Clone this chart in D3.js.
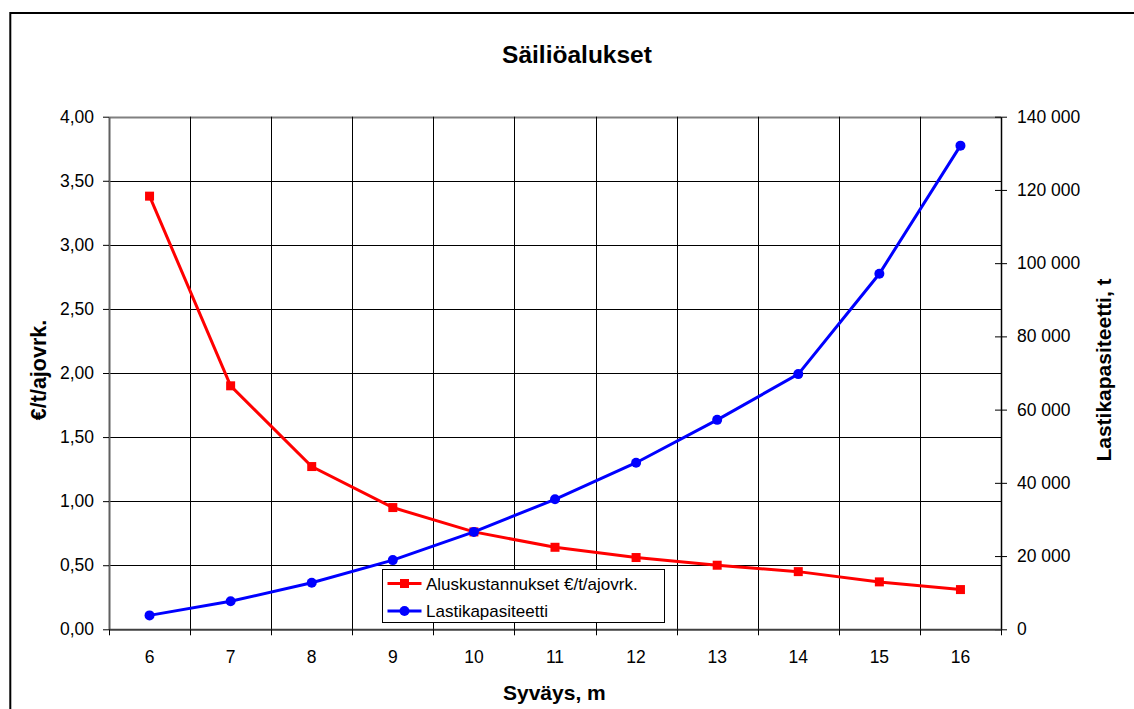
<!DOCTYPE html>
<html>
<head>
<meta charset="utf-8">
<script src="https://cdn.jsdelivr.net/npm/d3@7/dist/d3.min.js"></script>
<style>
  html, body { margin: 0; padding: 0; background: #fff; }
  svg { display: block; font-family: "Liberation Sans", Arial, sans-serif; }
</style>
</head>
<body>
<svg id="chart" width="1134" height="709"></svg>
<script>
// Draught (m) on the x axis
const categories = [6, 7, 8, 9, 10, 11, 12, 13, 14, 15, 16];
// Vessel cost, €/t per operating day (left axis)
const costValues = [3.38, 1.90, 1.27, 0.95, 0.76, 0.64, 0.56, 0.50, 0.45, 0.37, 0.31];
// Cargo capacity, tonnes (right axis)
const capacityValues = [3800, 7650, 12700, 18900, 26600, 35500, 45500, 57200, 69700, 97100, 132100];
// Axis ticks
const leftTicks = [0, 0.5, 1, 1.5, 2, 2.5, 3, 3.5, 4];
const rightTicks = [0, 20000, 40000, 60000, 80000, 100000, 120000, 140000];

const seriesNames = ["Aluskustannukset €/t/ajovrk.", "Lastikapasiteetti"];
const title = "Säiliöalukset";
const xTitle = "Syväys, m";
const yLeftTitle = "€/t/ajovrk.";
const yRightTitle = "Lastikapasiteetti, t";

const fi = d3.formatLocale({ decimal: ",", thousands: "\u00a0", grouping: [3], currency: ["", " €"] });
const fmtLeft = fi.format(".2f");
const fmtRight = fi.format(",d");

const svg = d3.select("#chart");
const plot = { left: 109, right: 1001, top: 116.7, bottom: 629.3 };

const x = d3.scaleBand().domain(categories).range([plot.left, plot.right]);
const yL = d3.scaleLinear().domain([0, 4]).range([plot.bottom, plot.top]);
const yR = d3.scaleLinear().domain([0, 140000]).range([plot.bottom, plot.top]);

// Outer chart frame (runs past the right and bottom edges)
svg.append("rect")
  .attr("x", 10.3).attr("y", 13).attr("width", 1200).attr("height", 800)
  .attr("fill", "none").attr("stroke", "#000").attr("stroke-width", 2);

// Title
svg.append("text")
  .attr("x", 577).attr("y", 63)
  .attr("text-anchor", "middle")
  .attr("font-weight", "bold").attr("font-size", 24.5)
  .text(title);

// Horizontal grid
const g = svg.append("g");
g.selectAll("line.h").data(leftTicks.slice(1)).join("line")
  .attr("x1", plot.left).attr("x2", plot.right)
  .attr("y1", d => Math.round(yL(d)) + 0.5).attr("y2", d => Math.round(yL(d)) + 0.5)
  .attr("stroke", d => d === 4 ? "#808080" : "#000").attr("stroke-width", d => d === 4 ? 2 : 1);

// Vertical grid at category boundaries
const bounds = categories.slice(1).map(c => x(c));
g.selectAll("line.v").data(bounds).join("line")
  .attr("x1", d => Math.round(d) + 0.5).attr("x2", d => Math.round(d) + 0.5)
  .attr("y1", plot.top).attr("y2", plot.bottom)
  .attr("stroke", "#000").attr("stroke-width", 1);

// Left axis
const axL = d3.axisLeft(yL).tickValues(leftTicks).tickFormat(fmtLeft).tickSizeInner(6).tickSizeOuter(0).tickPadding(9);
const gL = svg.append("g").attr("transform", `translate(${plot.left},0)`).call(axL);
gL.select(".domain").attr("stroke", "#606060").attr("stroke-width", 2);
gL.selectAll(".tick line").attr("stroke", "#000");
gL.selectAll(".tick text").attr("font-size", 17.5).attr("fill", "#000").attr("font-family", "Liberation Sans, Arial, sans-serif");

// Right axis (ticks cross the axis line)
const axR = d3.axisRight(yR).tickValues(rightTicks).tickFormat(fmtRight).tickSizeInner(6).tickSizeOuter(0).tickPadding(10);
const gR = svg.append("g").attr("transform", `translate(${plot.right},0)`).call(axR);
gR.select(".domain").attr("stroke", "#000").attr("stroke-width", 1.5);
gR.selectAll(".tick line").attr("x1", -6).attr("stroke", "#000");
gR.selectAll(".tick text").attr("font-size", 17.5).attr("fill", "#000").attr("font-family", "Liberation Sans, Arial, sans-serif");

// Bottom axis with ticks on the category boundaries
const axB = d3.axisBottom(x).tickSize(0).tickPadding(21);
const gB = svg.append("g").attr("transform", `translate(0,${plot.bottom})`).call(axB);
gB.select(".domain").attr("stroke", "#404040").attr("stroke-width", 2);
gB.selectAll(".tick text").attr("font-size", 17.5).attr("fill", "#000").attr("font-family", "Liberation Sans, Arial, sans-serif");
gB.selectAll("line.bt").data([plot.left, ...bounds, plot.right]).join("line")
  .attr("x1", d => Math.round(d) + 0.5).attr("x2", d => Math.round(d) + 0.5)
  .attr("y1", 0).attr("y2", 6).attr("stroke", "#000");

// Axis titles
svg.append("text")
  .attr("x", 503).attr("y", 700)
  .attr("font-weight", "bold").attr("font-size", 21)
  .text(xTitle);
svg.append("text")
  .attr("transform", "translate(46,370) rotate(-90)")
  .attr("text-anchor", "middle")
  .attr("font-weight", "bold").attr("font-size", 21.5)
  .text(yLeftTitle);
svg.append("text")
  .attr("transform", "translate(1111,370) rotate(-90)")
  .attr("text-anchor", "middle")
  .attr("font-weight", "bold").attr("font-size", 21)
  .text(yRightTitle);

const cx = d => x(d) + x.bandwidth() / 2;

// Cost series
const costData = categories.map((c, i) => ({ c, v: costValues[i] }));
svg.append("path").datum(costData)
  .attr("fill", "none").attr("stroke", "#ff0000").attr("stroke-width", 3)
  .attr("d", d3.line().x(d => cx(d.c)).y(d => yL(d.v)));
svg.selectAll("rect.cost").data(costData).join("rect")
  .attr("x", d => cx(d.c) - 4.5).attr("y", d => yL(d.v) - 4.5)
  .attr("width", 9).attr("height", 9).attr("fill", "#ff0000");

// Capacity series
const capData = categories.map((c, i) => ({ c, v: capacityValues[i] }));
svg.append("path").datum(capData)
  .attr("fill", "none").attr("stroke", "#0000ff").attr("stroke-width", 3)
  .attr("d", d3.line().x(d => cx(d.c)).y(d => yR(d.v)));
svg.selectAll("circle.cap").data(capData).join("circle")
  .attr("cx", d => cx(d.c)).attr("cy", d => yR(d.v))
  .attr("r", 5).attr("fill", "#0000ff");

// Legend
const lg = svg.append("g").attr("transform", "translate(382.5,569.5)");
lg.append("rect").attr("width", 282).attr("height", 53)
  .attr("fill", "#fff").attr("stroke", "#000").attr("stroke-width", 1);
const rows = [
  { name: seriesNames[0], color: "#ff0000", shape: "square", y: 14 },
  { name: seriesNames[1], color: "#0000ff", shape: "circle", y: 41.5 }
];
rows.forEach(r => {
  lg.append("line").attr("x1", 5).attr("x2", 39).attr("y1", r.y).attr("y2", r.y)
    .attr("stroke", r.color).attr("stroke-width", 3);
  if (r.shape === "square") {
    lg.append("rect").attr("x", 22 - 4.5).attr("y", r.y - 4.5).attr("width", 9).attr("height", 9).attr("fill", r.color);
  } else {
    lg.append("circle").attr("cx", 22).attr("cy", r.y).attr("r", 5).attr("fill", r.color);
  }
  lg.append("text").attr("x", 43.5).attr("y", r.y + 6.3)
    .attr("font-size", 17).text(r.name);
});
</script>
</body>
</html>
